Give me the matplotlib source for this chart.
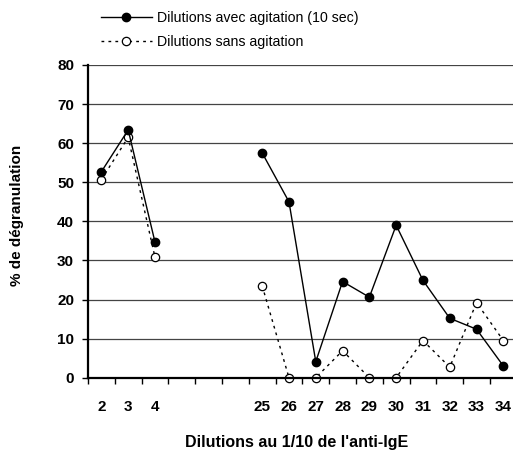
import numpy as np
import matplotlib
matplotlib.use("Agg")
import matplotlib.pyplot as plt
from matplotlib.ticker import FixedLocator

plt.rcParams['font.family'] = ['Liberation Sans', 'DejaVu Sans']

categories = ['2', '3', '4', '', '', '', '25', '26', '27', '28', '29', '30', '31', '32', '33', '34']
avec = [52.7, 63.4, 34.7, np.nan, np.nan, np.nan, 57.5, 45.0, 4.1, 24.6, 20.6, 39.0, 24.9, 15.2, 12.4, 3.0]
sans = [50.7, 61.5, 30.8, np.nan, np.nan, np.nan, 23.5, 0.0, 0.0, 6.9, 0.0, 0.0, 9.5, 2.7, 19.2, 9.5]
label_avec = 'Dilutions avec agitation (10 sec)'
label_sans = 'Dilutions sans agitation'
yticks = [0, 10, 20, 30, 40, 50, 60, 70, 80]

W, H = 513, 459
fig = plt.figure(figsize=(W / 100, H / 100), dpi=100)
ax = fig.add_axes([88 / W, (H - 377.7) / H, 1 - 88 / W, (377.7 - 65) / H])

x = np.arange(len(categories))
ax.plot(x, sans, linestyle=(0, (2, 3)), color='black', lw=1.0, marker='o',
        markerfacecolor='white', markeredgecolor='black', markersize=6, markeredgewidth=0.9,
        label=label_sans, zorder=3, clip_on=False)
ax.plot(x, avec, linestyle='-', color='black', lw=1.0, marker='o',
        markerfacecolor='black', markeredgecolor='black', markersize=6,
        label=label_avec, zorder=4, clip_on=False)

ax.set_ylim(0, 80)
ax.set_xlim(-0.5, 15.36)
ax.set_yticks(yticks)
ax.set_yticklabels([str(v) for v in yticks], fontsize=11, fontweight='bold')
ax.set_xticks(x)
ax.set_xticklabels(categories, fontsize=11, fontweight='bold')
ax.xaxis.set_minor_locator(FixedLocator(np.arange(-0.5, len(categories), 1.0)))
ax.tick_params(axis='x', which='major', length=0, pad=16)
ax.tick_params(axis='x', which='minor', length=4, width=1.0, direction='out')
ax.tick_params(axis='y', which='major', length=4, width=1.0, direction='out', pad=6)

ax.grid(axis='y', color='#444444', lw=0.9)
ax.set_axisbelow(True)
for s in ['top', 'right']:
    ax.spines[s].set_visible(False)
for s in ['left', 'bottom']:
    ax.spines[s].set_linewidth(1.6)
    ax.spines[s].set_zorder(5)

ax.set_ylabel('% de dégranulation', fontsize=11, fontweight='bold')
ax.yaxis.set_label_coords(-(88 - 17) / (W - 88), 0.52)
ax.set_xlabel("Dilutions au 1/10 de l'anti-IgE", fontsize=11.5, fontweight='bold')
ax.xaxis.set_label_coords((297 - 88) / (W - 88), -(443 - 377.7) / (377.7 - 65))
ax.xaxis.label.set_va('center')
ax.yaxis.label.set_va('center')

handles, labels = ax.get_legend_handles_labels()
leg = fig.legend(handles[::-1], labels[::-1], loc='upper left',
                 bbox_to_anchor=(95 / W, 1 - 5 / H), frameon=False, fontsize=10.2,
                 handlelength=3.6, handletextpad=0.4, labelspacing=0.75, borderaxespad=0)

fig.savefig('out.png', dpi=100)
